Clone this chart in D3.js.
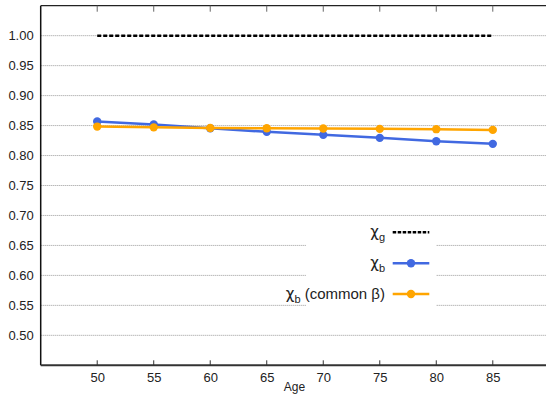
<!DOCTYPE html>
<html>
<head>
<meta charset="utf-8">
<script src="https://cdn.jsdelivr.net/npm/d3@7/dist/d3.min.js"></script>
<style>
html,body{margin:0;padding:0;background:#fff;overflow:hidden;}
svg{display:block;font-family:"Liberation Sans",Arial,sans-serif;}
</style>
</head>
<body>
<svg id="chart" width="546" height="395"></svg>
<script>
const ages = [50, 55, 60, 65, 70, 75, 80, 85];
const chiG = [1.0, 1.0, 1.0, 1.0, 1.0, 1.0, 1.0, 1.0];
const chiB = [0.8567, 0.8517, 0.8456, 0.8395, 0.8345, 0.8295, 0.8239, 0.8195];
const chiBCommon = [0.8483, 0.8470, 0.8460, 0.8456, 0.8450, 0.8445, 0.8440, 0.8428];
const yTicks = [0.50, 0.55, 0.60, 0.65, 0.70, 0.75, 0.80, 0.85, 0.90, 0.95, 1.00];
const xTicks = [50, 55, 60, 65, 70, 75, 80, 85];
const legendLabels = [["χ", "g", ""], ["χ", "b", ""], ["χ", "b", " (common β)"]];

const svg = d3.select("#chart");
const L = 40.7, R = 549.3, T = 5.7, B = 365.3;
const x = d3.scaleLinear().domain([45, 90]).range([L, R]);
const y = d3.scaleLinear().domain([0.45, 1.05]).range([B, T]);

// grid
svg.append("g").selectAll("line").data(yTicks).join("line")
  .attr("x1", L).attr("x2", 546)
  .attr("y1", d => y(d)).attr("y2", d => y(d))
  .attr("stroke", "#999").attr("stroke-width", 1)
  .attr("stroke-dasharray", "1,1");

// legend background (breaks grid lines)
svg.append("rect").attr("x", 306).attr("y", 222).attr("width", 130).attr("height", 97).attr("fill", "#fff");

// frame
svg.append("line").attr("x1", L).attr("x2", 546).attr("y1", T).attr("y2", T).attr("stroke", "#222").attr("stroke-width", 1.3);
svg.append("line").attr("x1", L).attr("x2", L).attr("y1", T).attr("y2", B).attr("stroke", "#111").attr("stroke-width", 1.5);
svg.append("line").attr("x1", L).attr("x2", 546).attr("y1", B).attr("y2", B).attr("stroke", "#333").attr("stroke-width", 2);

// x ticks (bottom and top)
const bottomAxis = d3.axisBottom(x).tickValues(xTicks).tickSize(0).tickPadding(7).tickFormat(d3.format("d"));
const gb = svg.append("g").attr("transform", `translate(0,${B})`).call(bottomAxis);
gb.select(".domain").remove();
gb.selectAll("text").attr("font-size", 13).attr("fill", "#222").attr("font-family", "Liberation Sans, Arial, sans-serif");
svg.append("g").selectAll("line.bt").data(xTicks).join("line")
  .attr("x1", d => x(d)).attr("x2", d => x(d)).attr("y1", B).attr("y2", B - 5)
  .attr("stroke", "#333").attr("stroke-width", 1);
svg.append("g").selectAll("line.tt").data(xTicks).join("line")
  .attr("x1", d => x(d)).attr("x2", d => x(d)).attr("y1", T).attr("y2", T + 6)
  .attr("stroke", "#666").attr("stroke-width", 1);

// y labels
const leftAxis = d3.axisLeft(y).tickValues(yTicks).tickSize(0).tickPadding(7).tickFormat(d3.format(".2f"));
const gl = svg.append("g").attr("transform", `translate(${L},0)`).call(leftAxis);
gl.select(".domain").remove();
gl.selectAll("text").attr("font-size", 13).attr("fill", "#222").attr("font-family", "Liberation Sans, Arial, sans-serif");

// axis title
svg.append("text").attr("x", 294.5).attr("y", 391).attr("text-anchor", "middle")
  .attr("font-size", 12).attr("fill", "#222").text("Age");

// series
const line = d3.line().x(d => x(d[0])).y(d => y(d[1]));
svg.append("path").datum(ages.map((a, i) => [a, chiG[i]]))
  .attr("d", line).attr("fill", "none").attr("stroke", "#000").attr("stroke-width", 2.5).attr("stroke-dasharray", "4,2");

const series = [
  {vals: chiB, color: "#4169e1"},
  {vals: chiBCommon, color: "#ffa500"}
];
series.forEach(s => {
  const pts = ages.map((a, i) => [a, s.vals[i]]);
  svg.append("path").datum(pts).attr("d", line).attr("fill", "none")
    .attr("stroke", s.color).attr("stroke-width", 2.5);
  svg.append("g").selectAll("circle").data(pts).join("circle")
    .attr("cx", d => x(d[0])).attr("cy", d => y(d[1])).attr("r", 4.2).attr("fill", s.color);
});

// legend
const legY = [232.3, 263.3, 294];
const legStyles = [
  {color: "#000", dash: "3.5,1.5", marker: false},
  {color: "#4169e1", dash: null, marker: true},
  {color: "#ffa500", dash: null, marker: true}
];
legendLabels.forEach((lab, i) => {
  const yy = legY[i];
  const st = legStyles[i];
  const t = svg.append("text").attr("x", 385).attr("y", yy + 5).attr("text-anchor", "end")
    .attr("font-size", 15).attr("fill", "#222");
  t.append("tspan").attr("font-family", "DejaVu Sans, sans-serif").text(lab[0]);
  t.append("tspan").attr("font-size", 11).attr("dy", 4).text(lab[1]);
  if (lab[2]) t.append("tspan").attr("dy", -4).text(lab[2]);
  const ln = svg.append("line").attr("x1", 392.7).attr("x2", 429.3).attr("y1", yy).attr("y2", yy)
    .attr("stroke", st.color).attr("stroke-width", 2.5);
  if (st.dash) ln.attr("stroke-dasharray", st.dash);
  if (st.marker) svg.append("circle").attr("cx", 411).attr("cy", yy).attr("r", 4.2).attr("fill", st.color);
});
</script>
</body>
</html>
